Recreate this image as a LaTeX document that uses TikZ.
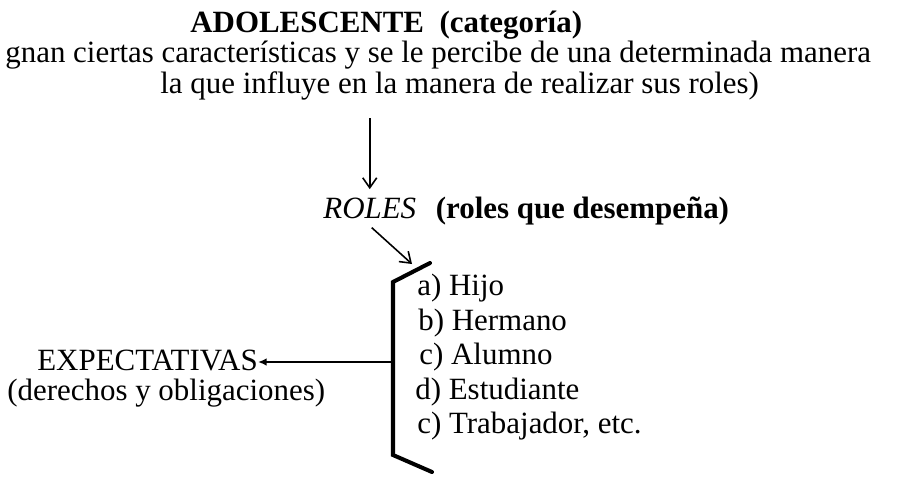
\documentclass[tikz,border=0pt]{standalone}
\usepackage{fontspec}
\setmainfont{Liberation Serif}
\usetikzlibrary{arrows.meta}

\begin{document}
\begin{tikzpicture}[
    txt/.style={anchor=base west,inner sep=0pt,font=\fontsize{17.6}{21}\selectfont},
    link/.style={line width=0.9pt,-{Straight Barb[length=2mm,width=2.8mm]}},
    brace/.style={line width=2.3pt,line cap=round,line join=miter}
]
    \useasboundingbox (0,0) rectangle (17.98,-9.52);

    % Category and its description
    \node[txt] (title) at (3.80,-0.64) {\bfseries ADOLESCENTE\ \ (categoría)};
    \node[txt] (descA) at (0.10,-1.24) {gnan ciertas características y se le percibe de una determinada manera};
    \node[txt] (descB) at (3.20,-1.86) {la que influye en la manera de realizar sus roles)};

    % Roles
    \node[txt] (roles) at (6.46,-4.36) {\itshape ROLES};
    \node[txt] (rolesnote) at ([xshift=0.38cm]roles.base east) {\bfseries (roles que desempeña)};
    \draw[link] (roles.north |- descB.south) ++(0,-0.36) -- ([yshift=0.16cm]roles.north);

    % Bracket with the list of roles
    \coordinate (brtop) at (8.60,-5.26);
    \coordinate (brtl)  at (7.86,-5.64);
    \coordinate (brbl)  at (7.86,-9.10);
    \coordinate (brbot) at (8.64,-9.44);
    \coordinate (brmid) at (7.86,-7.24);
    \coordinate (rolin) at (8.24,-5.28);
    \draw[brace] (brtop) -- (brtl) -- (brbl) -- (brbot);
    \draw[link] ([xshift=0.04cm,yshift=-0.18cm]roles.south) -- (rolin);

    \node[txt] (itA) at (8.34,-5.90) {a) Hijo};
    \node[txt] (itB) at (8.36,-6.60) {b) Hermano};
    \node[txt] (itC) at (8.38,-7.28) {c) Alumno};
    \node[txt] (itD) at (8.30,-7.98) {d) Estudiante};
    \node[txt] (itE) at (8.34,-8.66) {c) Trabajador, etc.};

    % Expectations
    \node[txt] (expect) at (0.74,-7.40) {EXPECTATIVAS};
    \node[txt] (rights) at (0.14,-8.00) {(derechos y obligaciones)};
    \draw[line width=0.9pt,-{Latex[length=1.7mm,width=1.5mm]}] (brmid) -- (brmid -| expect.east);
\end{tikzpicture}
\end{document}
